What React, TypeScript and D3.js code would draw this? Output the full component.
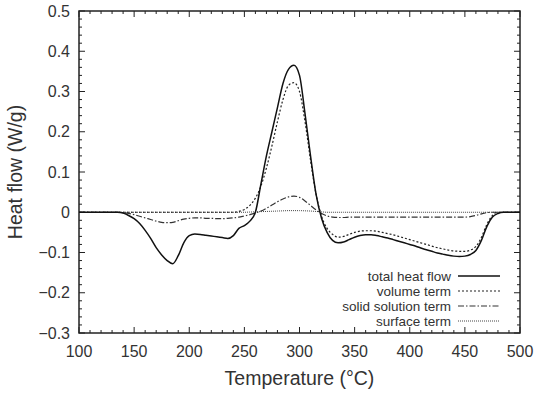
import * as d3 from "d3";
import { useEffect, useRef } from "react";

// temperature grid (°C) and the four curves (W/g)
const temps = d3.range(100, 505, 5);

const totalHeatFlow = [
  0, 0, 0, 0, 0, 0, 0, 0, -0.002, -0.008, -0.016, -0.028, -0.045, -0.065, -0.088, -0.106,
  -0.12, -0.128, -0.108, -0.076, -0.058, -0.054, -0.055, -0.057, -0.059, -0.061, -0.063, -0.065,
  -0.058, -0.04, -0.033, -0.022, 0.0, 0.07, 0.14, 0.2, 0.26, 0.32, 0.355, 0.365, 0.34, 0.245,
  0.14, 0.045, -0.015, -0.05, -0.07, -0.076, -0.074, -0.068, -0.062, -0.058, -0.056, -0.056,
  -0.058, -0.061, -0.064, -0.068, -0.072, -0.076, -0.08, -0.084, -0.089, -0.093, -0.097, -0.101,
  -0.104, -0.107, -0.109, -0.11, -0.109, -0.105, -0.095, -0.07, -0.035, -0.012, -0.003, 0, 0, 0, 0,
];

const volumeTerm = [
  0, 0, 0, 0, 0, 0, 0, 0, 0, 0, 0, 0, 0, 0, 0, 0, 0, 0, 0, 0, 0, 0, 0, 0, 0, 0, 0, 0, 0, 0.002,
  0.007, 0.017, 0.035, 0.065, 0.11, 0.165, 0.225, 0.28, 0.315, 0.322, 0.3, 0.225, 0.13, 0.045,
  -0.01, -0.04, -0.055, -0.062, -0.06, -0.055, -0.05, -0.047, -0.046, -0.046, -0.047, -0.05,
  -0.053, -0.056, -0.06, -0.064, -0.068, -0.072, -0.076, -0.08, -0.084, -0.088, -0.091, -0.094,
  -0.096, -0.097, -0.097, -0.094, -0.085, -0.062, -0.03, -0.008, 0, 0, 0, 0, 0,
];

const solidSolutionTerm = [
  0, 0, 0, 0, 0, 0, 0, 0, -0.001, -0.003, -0.006, -0.01, -0.014, -0.018, -0.022, -0.025, -0.026,
  -0.025, -0.021, -0.017, -0.015, -0.014, -0.014, -0.015, -0.015, -0.016, -0.016, -0.015, -0.014,
  -0.012, -0.009, -0.006, -0.002, 0.003, 0.01, 0.018, 0.026, 0.033, 0.038, 0.04, 0.037, 0.028,
  0.017, 0.006, -0.003, -0.009, -0.012, -0.013, -0.013, -0.012, -0.012, -0.012, -0.012, -0.012,
  -0.012, -0.012, -0.012, -0.012, -0.012, -0.012, -0.012, -0.012, -0.012, -0.012, -0.012, -0.012,
  -0.012, -0.012, -0.012, -0.012, -0.012, -0.011, -0.008, -0.004, -0.001, 0, 0, 0, 0, 0, 0,
];

const surfaceTerm = [
  0, 0, 0, 0, 0, 0, 0, 0, 0, 0, 0, 0, 0, 0, 0, 0, 0, 0, 0, 0, 0, 0, 0, 0, 0, 0, 0, 0, 0, 0, 0,
  0.0005, 0.001, 0.0015, 0.002, 0.0025, 0.003, 0.0035, 0.004, 0.004, 0.004, 0.0035, 0.003, 0.002,
  0.001, 0, 0, 0, 0, 0, 0, 0, 0, 0, 0, 0, 0, 0, 0, 0, 0, 0, 0, 0, 0, 0, 0, 0, 0, 0, 0, 0, 0, 0,
  0, 0, 0, 0, 0, 0, 0,
];

const seriesNames = ["total heat flow", "volume term", "solid solution term", "surface term"];
const xTicks = [100, 150, 200, 250, 300, 350, 400, 450, 500];
const yTicks = [-0.3, -0.2, -0.1, 0, 0.1, 0.2, 0.3, 0.4, 0.5];

const W = 535;
const H = 393;

const App = () => {
  const ref = useRef<SVGSVGElement>(null);

  useEffect(() => {
    const margin = { top: 11, right: 15, bottom: 60, left: 79 };
    const width = W - margin.left - margin.right;
    const height = H - margin.top - margin.bottom;

    const root = d3.select(ref.current);
    root.selectAll("*").remove();
    const svg = root.append("g").attr("transform", `translate(${margin.left},${margin.top})`);

    const x = d3.scaleLinear().domain([100, 500]).range([0, width]);
    const y = d3.scaleLinear().domain([-0.3, 0.5]).range([height, 0]);

    const font = "Liberation Sans, Arial, sans-serif";
    const textColor = "#333";

    // ticks pointing inwards on all four sides
    const minorX = d3.range(100, 501, 10);
    const minorY = d3.range(-0.3, 0.5001, 0.02);
    const ticks = svg.append("g").attr("stroke", "#222").attr("stroke-width", 1);
    minorX.forEach((t) => {
      const len = xTicks.includes(t) ? 6 : 3;
      ticks.append("line").attr("x1", x(t)).attr("x2", x(t)).attr("y1", height).attr("y2", height - len);
      ticks.append("line").attr("x1", x(t)).attr("x2", x(t)).attr("y1", 0).attr("y2", len);
    });
    minorY.forEach((t) => {
      const major = yTicks.some((v) => Math.abs(v - t) < 1e-6);
      const len = major ? 6 : 3;
      ticks.append("line").attr("x1", 0).attr("x2", len).attr("y1", y(t)).attr("y2", y(t));
      ticks.append("line").attr("x1", width).attr("x2", width - len).attr("y1", y(t)).attr("y2", y(t));
    });

    svg
      .append("rect")
      .attr("width", width)
      .attr("height", height)
      .attr("fill", "none")
      .attr("stroke", "#222")
      .attr("stroke-width", 1.5);

    svg
      .selectAll(".xlab")
      .data(xTicks)
      .join("text")
      .attr("x", (d) => x(d))
      .attr("y", height + 24)
      .attr("text-anchor", "middle")
      .attr("font-family", font)
      .attr("font-size", 16)
      .attr("fill", textColor)
      .text((d) => String(d));

    svg
      .selectAll(".ylab")
      .data(yTicks)
      .join("text")
      .attr("x", -9)
      .attr("y", (d) => y(d) + 5.5)
      .attr("text-anchor", "end")
      .attr("font-family", font)
      .attr("font-size", 16)
      .attr("fill", textColor)
      .text((d) => (d === 0 ? "0" : d3.format(".1f")(d).replace("-", "\u2212")));

    svg
      .append("text")
      .attr("x", width / 2)
      .attr("y", height + 52)
      .attr("text-anchor", "middle")
      .attr("font-family", font)
      .attr("font-size", 19.5)
      .attr("fill", textColor)
      .text("Temperature (°C)");

    svg
      .append("text")
      .attr("transform", `translate(${-57},${height / 2}) rotate(-90)`)
      .attr("text-anchor", "middle")
      .attr("font-family", font)
      .attr("font-size", 19.5)
      .attr("fill", textColor)
      .text("Heat flow (W/g)");

    const styles = [
      { dash: null, width: 1.5, color: "#111" },
      { dash: "2,2", width: 1.2, color: "#222" },
      { dash: "6,2,1.5,2", width: 1.2, color: "#333" },
      { dash: "1,1", width: 1, color: "#444" },
    ];
    const allSeries = [totalHeatFlow, volumeTerm, solidSolutionTerm, surfaceTerm];

    const line = d3
      .line<number>()
      .x((_, i) => x(temps[i]))
      .y((d) => y(d))
      .curve(d3.curveMonotoneX);

    // draw back to front so the total sits on top
    [3, 2, 1, 0].forEach((k) => {
      svg
        .append("path")
        .attr("d", line(allSeries[k]))
        .attr("fill", "none")
        .attr("stroke", styles[k].color)
        .attr("stroke-width", styles[k].width)
        .attr("stroke-dasharray", styles[k].dash);
    });

    // legend, bottom right
    const legend = svg.append("g");
    seriesNames.forEach((name, i) => {
      const ly = 265 + i * 15;
      legend
        .append("text")
        .attr("x", 372)
        .attr("y", ly + 4.5)
        .attr("text-anchor", "end")
        .attr("font-family", font)
        .attr("font-size", 13.5)
        .attr("fill", textColor)
        .text(name);
      legend
        .append("line")
        .attr("x1", 379)
        .attr("x2", 421)
        .attr("y1", ly)
        .attr("y2", ly)
        .attr("stroke", styles[i].color)
        .attr("stroke-width", styles[i].width)
        .attr("stroke-dasharray", styles[i].dash);
    });
  }, []);

  return (
    <svg
      ref={ref}
      width={W}
      height={H}
      style={{ position: "absolute", left: 0, top: 0, background: "#fff" }}
    />
  );
};

export default App;
